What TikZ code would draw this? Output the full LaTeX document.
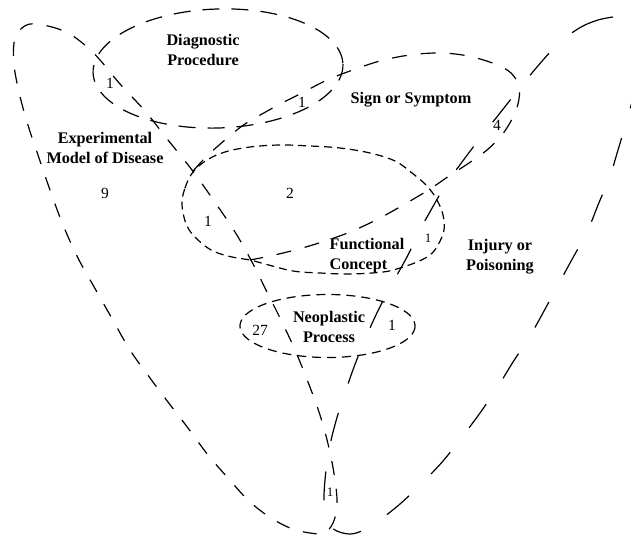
\documentclass[tikz,border=0pt]{standalone}
\usepackage{fontspec}
\setmainfont{Liberation Serif}
\begin{document}
\begin{tikzpicture}[x=1pt,y=-1pt,line width=1.2pt,
  lbl/.style={font=\fontsize{16.2}{20}\selectfont\bfseries,align=center,inner sep=0pt},
  lbll/.style={font=\fontsize{16.2}{20}\selectfont\bfseries,align=left,inner sep=0pt},
  num/.style={font=\fontsize{15.5}{17}\selectfont,inner sep=0pt},
  snum/.style={font=\fontsize{13}{15}\selectfont,inner sep=0pt},
  edash/.style={dash pattern=on 14pt off 14pt},
  idash/.style={dash pattern=on 29pt off 31pt},
  ddash/.style={dash pattern=on 17pt off 12pt},
  sdash/.style={dash pattern=on 15pt off 14pt},
  fdash/.style={dash pattern=on 8pt off 5pt},
  ndash/.style={dash pattern=on 9pt off 6pt}]
\useasboundingbox (0,0) rectangle (631,535);
\clip (0,0) rectangle (631,535);
% Experimental Model of Disease
\draw[edash] plot[smooth cycle,tension=0.6] coordinates {(30,24) (48,26) (68,33) (86,46) (100,60) (120,84) (145,111) (168,140) (192,170) (212,198) (235,232) (252,262) (266,290) (281,320) (295,350) (308,382) (320,415) (329,448) (335,480) (337,505) (333,523) (324,533) (310,533) (290,528) (268,516) (248,500) (228,478) (208,455) (188,428) (168,402) (150,378) (130,350) (110,315) (93,285) (78,258) (63,225) (50,190) (38,155) (27,122) (19,92) (14,65) (14,43) (19,31)};
% Injury or Poisoning
\draw[idash] plot[smooth cycle,tension=0.6] coordinates {(613,17) (598,20) (583,26) (569,35) (555,47) (537,67) (519,89) (500,113) (481,137) (462,162) (445,186) (431,210) (419,232) (408,255) (397,275) (386,295) (375,317) (364,342) (354,367) (345,393) (336,421) (329,450) (325,480) (324,505) (327,520) (335,530) (350,534) (364,530) (377,522) (400,504) (422,483) (443,461) (462,437) (480,413) (497,388) (513,362) (530,336) (550,300) (570,263) (587,232) (598,205) (610,176) (618,150) (627,120) (634,95) (645,60) (648,35) (638,20) (625,16)};
% Diagnostic Procedure
\draw[ddash] plot[domain=0:360,samples=121] ({218+124.92*cos(\x)+2.08*sin(\x)},{68.5-4.36*cos(\x)+59.46*sin(\x)});
% Sign or Symptom
\draw[sdash] plot[smooth,tension=0.6] coordinates {(193,171) (205,158) (218,146) (232,134) (245,124) (262,114) (282,103) (302,93) (325,81) (350,71) (380,61) (410,55) (440,53) (468,56) (495,64) (511,73) (519,87) (518,104) (511,121) (501,136) (487,150) (469,163) (449,176) (430,189) (405,204) (378,219) (350,232) (322,242) (295,250) (270,256) (250,260)};
% Functional Concept
\draw[fdash] plot[smooth cycle,tension=0.6] coordinates {(182,205) (185,188) (193,172) (207,160) (225,152) (250,147) (280,145) (310,146) (340,148) (370,153) (395,161) (412,173) (427,186) (437,200) (443,215) (444,230) (438,245) (430,255) (417,262) (400,268) (383,272) (350,274) (320,273) (293,271) (265,264) (250,260) (232,257) (213,251) (198,240) (187,226)};
% Neoplastic Process
\draw[ndash] plot[domain=0:360,samples=121] ({327.5+87.5*cos(\x)},{326+31.5*sin(\x)});
% labels
\node[lbl] (diag) at (203,50) {Diagnostic\\Procedure};
\node[lbl] (sign) at (411,100) {Sign or Symptom};
\node[lbl] (expm) at (105,148) {Experimental\\Model of Disease};
\node[lbll,anchor=west] (func) at (329,256) {Functional\\Concept};
\node[lbl] (inj) at (500,257) {Injury or\\Poisoning};
\node[lbl] (neo) at (329,327) {Neoplastic\\Process};
% counts
\node[num] (n9) at (105,193) {9};
\node[num] (n2) at (290,193) {2};
\node[num] (n1a) at (110,83) {1};
\node[num] (n1b) at (302,102) {1};
\node[num] (n1c) at (208,221) {1};
\node[num] (n4) at (497,125) {4};
\node[snum] (n1d) at (428,238) {1};
\node[num] (n27) at (260,330) {27};
\node[num] (n1e) at (392,325) {1};
\node[snum] (n1f) at (330,492) {1};
\end{tikzpicture}
\end{document}
